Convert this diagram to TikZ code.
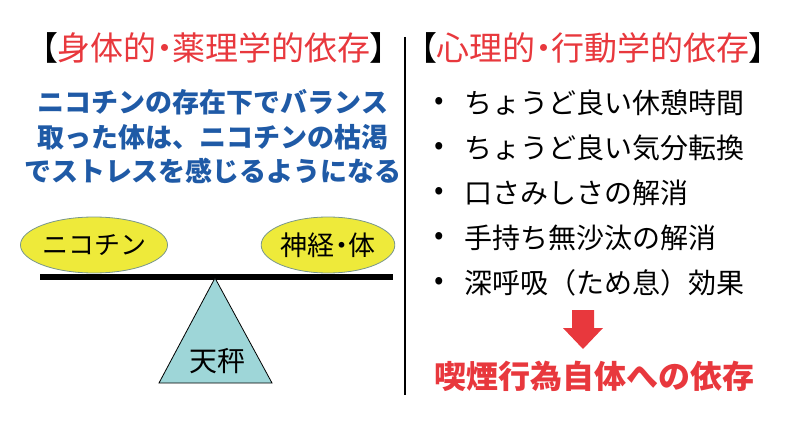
\documentclass[tikz,border=0pt]{standalone}
\usepackage{fontspec}
\setmainfont{Noto Sans CJK JP}
\newfontfamily\propfont[RawFeature=+palt]{Noto Sans CJK JP}
\usepackage{tikz}
\usetikzlibrary{positioning, calc, shapes.geometric}
\definecolor{alertred}{RGB}{232, 56, 61}
\definecolor{msgblue}{RGB}{31, 90, 166}
\definecolor{weightyellow}{RGB}{238, 234, 58}
\definecolor{pivotteal}{RGB}{158, 214, 216}
\definecolor{rimgray}{RGB}{120, 150, 140}

\tikzset{
    heading/.style={font=\propfont\fontsize{33}{38}\selectfont, inner sep=0pt},
    weight/.style={ellipse, fill=weightyellow, draw=rimgray, line width=0.8pt,
                   minimum width=132pt, minimum height=56pt, inner sep=0pt,
                   font=\fontsize{26}{30}\selectfont},
    item/.style={font=\fontsize{28}{32}\selectfont, anchor=west, inner sep=0pt}
}

\begin{document}
\begin{tikzpicture}[x=1pt, y=-1pt]
    \useasboundingbox (0,0) rectangle (804,436);

    % left: physical dependence
    \node[heading] (lefttitle) at (214,48) {【\textcolor{alertred}{身体的・薬理学的依存}】};
    \node[font=\bfseries\fontsize{27}{34.5}\selectfont, text=msgblue, align=center, inner sep=0pt]
        (balance) at (213,137) {ニコチンの存在下でバランス\\取った体は、ニコチンの枯渇\\でストレスを感じるようになる};

    % the scale
    \node[weight] (nicotine) at (94,245) {ニコチン};
    \node[weight, minimum width=130pt, font=\propfont\fontsize{27}{30}\selectfont] (body) at (328,245) {神経・体};
    \coordinate (beamL) at (40,277);
    \coordinate (beamR) at (393,277);
    \draw[line width=6pt] (beamL) -- (beamR);
    \coordinate (apex) at (215,278);
    \draw[fill=pivotteal, line width=0.8pt] (apex) -- (272,383) -- (159,383) -- cycle;
    \node[font=\fontsize{28}{30}\selectfont, inner sep=0pt] (pivot) at (217,361) {天秤};

    % divider
    \coordinate (divtop) at (405,37);
    \coordinate (divbot) at (405,395);
    \draw[line width=1.2pt] (divtop) -- (divbot);

    % right: psychological dependence
    \node[heading] (righttitle) at (593,48) {【\textcolor{alertred}{心理的・行動学的依存}】};
    \foreach \txt [count=\i] in {ちょうど良い休憩時間, ちょうど良い気分転換, 口さみしさの解消,
                                 手持ち無沙汰の解消, 深呼吸（ため息）効果} {
        \node[item] (dot\i) at (434,58+45*\i) {•};
        \node[item] (item\i) at (464,58+45*\i) {\txt};
    }

    % arrow and result
    \coordinate (arrowtop) at (583,310);
    \fill[alertred] ($(arrowtop)+(-11,0)$) -- ($(arrowtop)+(11,0)$) -- ($(arrowtop)+(11,18)$)
        -- ($(arrowtop)+(20,18)$) -- ($(arrowtop)+(0,39)$) -- ($(arrowtop)+(-20,18)$)
        -- ($(arrowtop)+(-11,18)$) -- cycle;
    \node[font=\bfseries\fontsize{32}{36}\selectfont, text=alertred, inner sep=0pt]
        (result) at (594,376) {喫煙行為自体への依存};
\end{tikzpicture}
\end{document}
